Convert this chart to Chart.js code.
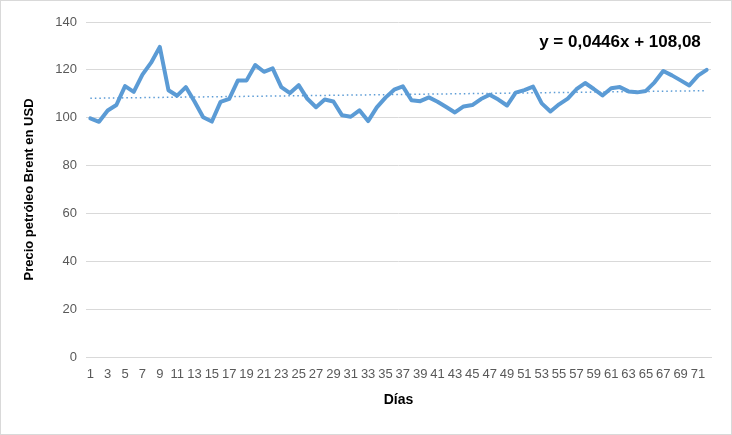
<!DOCTYPE html>
<html lang="es">
<head>
<meta charset="UTF-8">
<title>Precio petróleo Brent</title>
<script src="https://cdn.jsdelivr.net/npm/chart.js"></script>
<style>
  html, body { margin: 0; padding: 0; background: #fff; }
  #wrap { width: 732px; height: 435px; }
</style>
</head>
<body>
<div id="wrap"><canvas id="brentChart" width="732" height="435"></canvas></div>
<script>
// días 1..72
const dias = [];
for (let d = 1; d <= 72; d++) dias.push(d);

// precio
const precios = [
  99.7, 98.3, 103.0, 105.3, 113.2, 110.8, 118.0, 123.0, 129.6, 111.5,
  109.2, 112.8, 106.8, 100.2, 98.4, 106.6, 107.9, 115.6, 115.6, 122.0,
  119.2, 120.6, 112.8, 110.3, 113.6, 107.9, 104.4, 107.6, 106.8, 101.0,
  100.4, 103.1, 98.6, 104.3, 108.4, 111.7, 113.1, 107.3, 106.9, 108.5,
  106.7, 104.5, 102.2, 104.7, 105.3, 107.8, 109.6, 107.6, 105.1, 110.5,
  111.5, 113.0, 106.0, 102.6, 105.6, 108.0, 111.9, 114.5, 112.0, 109.3,
  112.3, 112.8, 111.0, 110.6, 111.2, 114.8, 119.5, 117.7, 115.6, 113.5,
  117.6, 120.0
];

// línea de tendencia lineal (ecuación del gráfico)
const pendiente = 0.0446;
const intercepto = 108.08;
const tendencia = dias.map(d => pendiente * d + intercepto);
const etiquetaEcuacion = 'y = 0,0446x + 108,08';

const textoEcuacion = {
  id: 'textoEcuacion',
  afterDraw(chart) {
    const ctx = chart.ctx;
    const area = chart.chartArea;
    ctx.save();
    ctx.font = 'bold 17px "Liberation Sans", Arial, sans-serif';
    ctx.fillStyle = '#000';
    ctx.textAlign = 'center';
    ctx.textBaseline = 'middle';
    ctx.fillText(etiquetaEcuacion, area.right - 91, area.top + 20);
    // borde del gráfico
    ctx.strokeStyle = '#d9d9d9';
    ctx.lineWidth = 1;
    ctx.strokeRect(0.5, 0.5, chart.width - 1, chart.height - 1);
    ctx.restore();
  }
};

new Chart(document.getElementById('brentChart'), {
  type: 'line',
  data: {
    labels: dias,
    datasets: [{
      label: 'Precio',
      data: precios,
      borderColor: '#5b9bd5',
      borderWidth: 4,
      pointRadius: 0,
      tension: 0,
      borderJoinStyle: 'round',
      borderCapStyle: 'round',
      order: 1
    }, {
      label: 'Lineal',
      data: tendencia,
      borderColor: '#5b9bd5',
      borderWidth: 1.5,
      borderDash: [1.5, 3],
      pointRadius: 0,
      tension: 0,
      order: 2
    }]
  },
  options: {
    responsive: false,
    animation: false,
    layout: { padding: { left: 0, right: 21, top: 22, bottom: 0 } },
    plugins: {
      legend: { display: false },
      tooltip: { enabled: false }
    },
    scales: {
      x: {
        offset: true,
        grid: { display: false, drawTicks: false },
        border: { display: true, color: '#d9d9d9' },
        ticks: {
          autoSkip: false,
          maxRotation: 0,
          padding: 10,
          color: '#595959',
          font: { family: '"Liberation Sans", Arial, sans-serif', size: 13 },
          callback: function (v, i) { return i % 2 === 0 ? this.getLabelForValue(v) : ''; }
        },
        title: {
          display: true,
          text: 'Días',
          color: '#000',
          font: { family: '"Liberation Sans", Arial, sans-serif', size: 14, weight: 'bold' },
          padding: { top: 0, bottom: 26 }
        },
        afterFit(scale) { scale.height = 78; }
      },
      y: {
        min: 0,
        max: 140,
        grid: { color: '#d9d9d9', drawTicks: false },
        border: { display: false },
        ticks: {
          stepSize: 20,
          padding: 9,
          color: '#595959',
          font: { family: '"Liberation Sans", Arial, sans-serif', size: 13 }
        },
        title: {
          display: true,
          text: 'Precio petróleo Brent en USD',
          color: '#000',
          font: { family: '"Liberation Sans", Arial, sans-serif', size: 13, weight: 'bold' },
          padding: { top: 22, bottom: 0 }
        },
        afterFit(scale) { scale.width = 86; }
      }
    }
  },
  plugins: [textoEcuacion]
});
</script>
</body>
</html>
